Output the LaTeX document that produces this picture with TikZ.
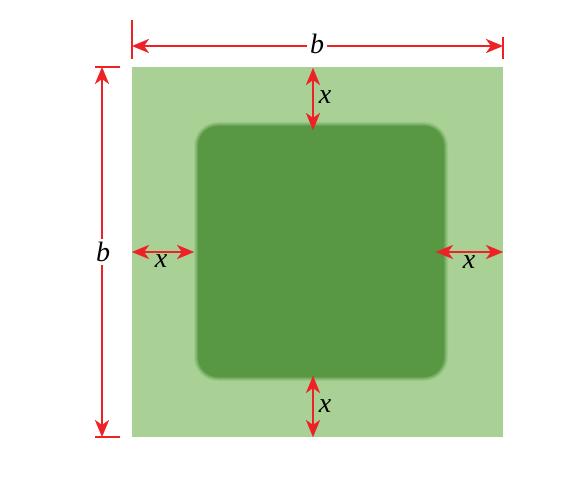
\documentclass[tikz,border=0pt]{standalone}
\usepackage{fontspec}
\setmainfont{Liberation Serif}
\usetikzlibrary{arrows.meta}
\definecolor{arrowred}{HTML}{ED2126}
\definecolor{lightgreen}{HTML}{A9D195}
\definecolor{darkgreen}{HTML}{589842}
\tikzset{
  dimtip/.tip={Stealth[length=17pt,width=14pt,inset=5pt,fill=arrowred,color=arrowred,line width=0.1pt]},
  dimline/.style={draw=arrowred,line width=1.5pt,{dimtip}-{dimtip}},
  extline/.style={draw=arrowred,line width=1.5pt},
  lab/.style={font=\fontsize{28}{30}\selectfont\itshape,inner sep=1pt},
  whitelab/.style={lab,fill=white,inner sep=3pt}
}
\begin{document}
\begin{tikzpicture}[x=1pt,y=-1pt]
\useasboundingbox (0,0) rectangle (581,500);
% field
\fill[lightgreen] (132,67) rectangle (503,437);
% fuzzy dark square
\foreach \d/\o in {4/0.15,3/0.2,2/0.3,1/0.45} {
  \fill[darkgreen,opacity=\o,rounded corners=20pt+\d pt] (198-\d,126-\d) rectangle (444+\d,377+\d);
}
\fill[darkgreen,rounded corners=20pt] (198,126) rectangle (444,377);
\node[inner sep=0pt,minimum width=371pt,minimum height=370pt] (field) at (317.5,252) {};
\node[inner sep=0pt,minimum width=246pt,minimum height=251pt] (plot) at (321,251.5) {};
% extension lines
\coordinate (tl1) at (132,20); \coordinate (tl2) at (132,59);
\coordinate (tr1) at (503,37); \coordinate (tr2) at (503,59);
\draw[extline] (tl1) -- (tl2);
\draw[extline] (tr1) -- (tr2);
\coordinate (lt1) at (95,67); \coordinate (lt2) at (120,67);
\coordinate (lb1) at (95,437); \coordinate (lb2) at (120,437);
\draw[extline] (lt1) -- (lt2);
\draw[extline] (lb1) -- (lb2);
% b dimensions
\coordinate (ta) at (132,46); \coordinate (tb) at (503,46);
\draw[dimline] (ta) -- (tb);
\node[whitelab] (btop) at (317,44) {b};
\coordinate (la) at (102,67); \coordinate (lb) at (102,437);
\draw[dimline] (la) -- (lb);
\node[whitelab] (bleft) at (103,252) {b};
% x dimensions
\coordinate (xt1) at (313,68); \coordinate (xt2) at (313,130);
\draw[dimline] (xt1) -- (xt2);
\node[lab] (xtop) at (325,97) {x};
\coordinate (xb1) at (313,376); \coordinate (xb2) at (313,437);
\draw[dimline] (xb1) -- (xb2);
\node[lab] (xbot) at (325,406) {x};
\coordinate (xl1) at (132,252); \coordinate (xl2) at (194,252);
\draw[dimline] (xl1) -- (xl2);
\node[lab] (xleft) at (161,261) {x};
\coordinate (xr1) at (436,252); \coordinate (xr2) at (503,252);
\draw[dimline] (xr1) -- (xr2);
\node[lab] (xright) at (469,262) {x};
\end{tikzpicture}
\end{document}
